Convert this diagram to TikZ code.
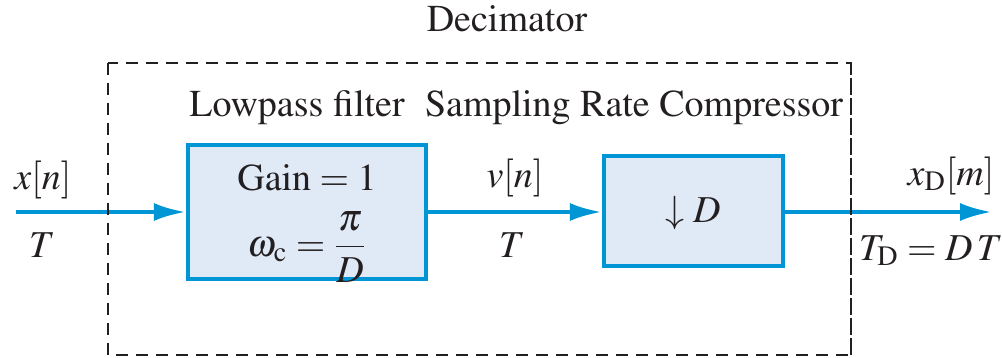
\documentclass[tikz,border=0pt]{standalone}
\usepackage[T1]{fontenc}
\usepackage{amsmath}
\usepackage{mathptmx}
\usetikzlibrary{arrows.meta}
\definecolor{sigblue}{RGB}{0,150,214}
\definecolor{boxfill}{RGB}{224,234,246}
\definecolor{txt}{RGB}{35,31,32}
\begin{document}
\begin{tikzpicture}[x=0.5pt,y=-0.5pt,
  every node/.style={text=txt,font=\fontsize{19}{22}\selectfont,inner sep=0pt},
  blk/.style={draw=sigblue,fill=boxfill,line width=2.1pt,rectangle},
  sig/.style={draw=sigblue,line width=2.1pt,-{Latex[length=16pt,width=9pt]}},
  dsh/.style={txt,line width=1.2pt,dash pattern=on 6pt off 4pt},
  lbl/.style={anchor=base}]
\useasboundingbox (0,0) rectangle (1002,358);
% dashed decimator box
\draw[dsh] (108,63) rectangle (851,355);
\node[lbl] (dec) at (507,32) {Decimator};
\node[lbl] (lpt) at (297,117) {Lowpass filter};
\node[lbl] (srt) at (634,117) {Sampling Rate Compressor};
% blocks
\node[blk,minimum width=119pt,minimum height=67pt] (lp) at (307,212) {};
\node[blk,minimum width=89.5pt,minimum height=55pt] (comp) at (693.5,211) {};
\node[lbl] (gain) at (307,191) {Gain${}=1$};
\node (wc) at (307,247) {$\omega_{\mathrm{c}}=\dfrac{\pi}{D}$};
\node[lbl] (down) at (693,222) {$\downarrow D$};
% coordinates
\coordinate (in) at (16,212);
\coordinate (out) at (992,212);
% signals
\draw[sig] (in) -- (lp.west |- in);
\draw[sig] (lp.east |- in) -- (comp.west |- in);
\draw[sig] (comp.east |- in) -- (out);
% labels
\node[lbl] (xn) at (43,190) {$x[n]$};
\node[lbl] (t1) at (42,257) {$T$};
\node[lbl] (vn) at (515,188) {$v[n]$};
\node[lbl] (t2) at (512,257) {$T$};
\node[lbl] (xd) at (951,185) {$x_{\mathrm{D}}[m]$};
\node[lbl] (td) at (931,260) {$T_{\mathrm{D}}=D\,T$};
% redraw dashed verticals over lines
\draw[dsh] (108,63) -- (108,355);
\draw[dsh] (851,63) -- (851,355);
\end{tikzpicture}
\end{document}
